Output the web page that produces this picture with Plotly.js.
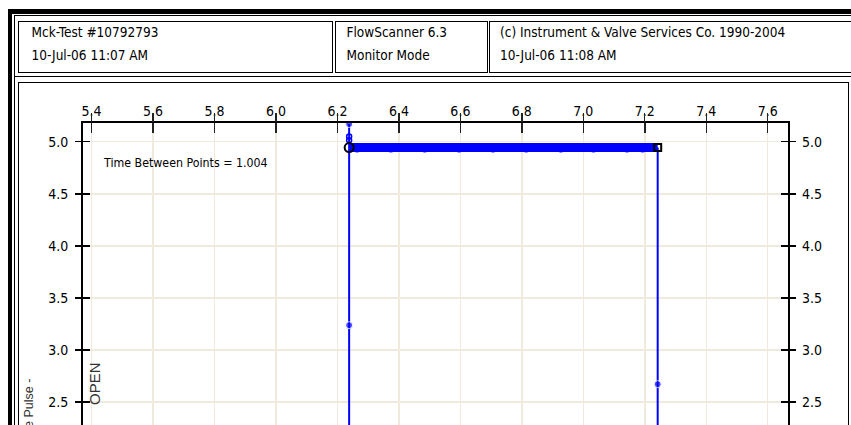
<!DOCTYPE html>
<html>
<head>
<meta charset="utf-8">
<script src="https://cdn.plot.ly/plotly-3.0.1.min.js"></script>
<style>
  html, body { margin:0; padding:0; background:#fff; overflow:hidden; }
  #wrap { position:relative; width:851px; height:425px; overflow:hidden; background:#fff; }
  #plot { position:absolute; left:0; top:0; width:851px; height:767px; }
  .fr { position:absolute; pointer-events:none; box-sizing:border-box; }
  .bk { background:#000; }
  .box { border:1px solid #000; }
  .ht { position:absolute; font-family:"DejaVu Sans Condensed","DejaVu Sans",sans-serif; font-size:13.5px; line-height:16px; color:#000; white-space:nowrap; pointer-events:none; }
</style>
</head>
<body>
<div id="wrap">
  <div id="plot"></div>
  <!-- outer double frame -->
  <div class="fr bk" style="left:8px;top:9px;width:851px;height:5px;"></div>
  <div class="fr bk" style="left:8px;top:9px;width:4px;height:425px;"></div>
  <div class="fr bk" style="left:14px;top:15px;width:851px;height:1px;"></div>
  <div class="fr bk" style="left:14px;top:15px;width:1px;height:425px;"></div>
  <!-- header boxes -->
  <div class="fr box" style="left:18px;top:21px;width:315px;height:52px;"></div>
  <div class="fr box" style="left:335px;top:21px;width:153px;height:52px;"></div>
  <div class="fr box" style="left:489px;top:21px;width:420px;height:52px;"></div>
  <div class="fr bk" style="left:14px;top:76px;width:851px;height:1px;"></div>
  <!-- chart box -->
  <div class="fr box" style="left:18px;top:82px;width:831px;height:420px;"></div>
  <div id="hdr"></div>
</div>
<script>
// ---- header texts ----
var headerLine1 = ["Mck-Test #10792793", "FlowScanner 6.3", "(c) Instrument & Valve Services Co. 1990-2004"];
var headerLine2 = ["10-Jul-06 11:07 AM", "Monitor Mode", "10-Jul-06 11:08 AM"];

// ---- axis ticks ----
var xTickVals = [5.4, 5.6, 5.8, 6.0, 6.2, 6.4, 6.6, 6.8, 7.0, 7.2, 7.4, 7.6];
var xTickText = ["5.4", "5.6", "5.8", "6.0", "6.2", "6.4", "6.6", "6.8", "7.0", "7.2", "7.4", "7.6"];
var yTickVals = [0.0, 0.5, 1.0, 1.5, 2.0, 2.5, 3.0, 3.5, 4.0, 4.5, 5.0];
var yTickText = ["0.0", "0.5", "1.0", "1.5", "2.0", "2.5", "3.0", "3.5", "4.0", "4.5", "5.0"];

// ---- data ----
var riseX = [6.238, 6.238, 6.238];
var riseY = [0.0, 3.237, 5.17];
var overshootX = [6.238, 6.238];
var overshootY = [5.05, 5.015];
var plateauX = [6.238, 7.242];
var plateauY = [4.944, 4.944];
var plateauPtsX = [6.264, 6.374, 6.484, 6.596, 6.706, 6.814, 6.927, 7.033, 7.142, 7.193];
var plateauPtsY = [4.93, 4.93, 4.93, 4.93, 4.93, 4.93, 4.93, 4.93, 4.93, 4.93];
var fallX = [7.242, 7.242, 7.242];
var fallY = [4.944, 2.67, 0.0];
var startCursor = {x: [6.238], y: [4.944]};
var endCursor = {x: [7.242], y: [4.944]};
var timeBetweenPoints = "1.004";

var hdr = document.getElementById('hdr');
var colLeft = [31.5, 346.5, 500];
for (var i = 0; i < 3; i++) {
  var a = document.createElement('div'); a.className = 'ht';
  a.style.left = colLeft[i] + 'px'; a.style.top = (31.7 - 8) + 'px'; a.textContent = headerLine1[i];
  hdr.appendChild(a);
  var b = document.createElement('div'); b.className = 'ht';
  b.style.left = colLeft[i] + 'px'; b.style.top = (55 - 8) + 'px'; b.textContent = headerLine2[i];
  hdr.appendChild(b);
}

var BLUE = '#0000ff';
var traces = [
  {x: plateauX, y: plateauY, mode: 'lines', line: {color: BLUE, width: 9}, hoverinfo: 'skip', showlegend: false},
  {x: plateauPtsX, y: plateauPtsY, mode: 'markers', marker: {color: BLUE, size: 7}, hoverinfo: 'skip', showlegend: false},
  {x: riseX, y: riseY, mode: 'lines+markers', line: {color: BLUE, width: 2}, marker: {color: BLUE, size: [0, 7, 7]}, hoverinfo: 'skip', showlegend: false},
  {x: overshootX, y: overshootY, mode: 'markers', marker: {symbol: 'circle-open', color: BLUE, size: 5, line: {width: 1.5, color: BLUE}}, hoverinfo: 'skip', showlegend: false},
  {x: fallX, y: fallY, mode: 'lines+markers', line: {color: BLUE, width: 2}, marker: {color: BLUE, size: [0, 7, 0]}, hoverinfo: 'skip', showlegend: false},
  {x: startCursor.x, y: startCursor.y, mode: 'markers', marker: {symbol: 'circle-open', color: '#000', size: 9, line: {width: 2, color: '#000'}}, hoverinfo: 'skip', showlegend: false},
  {x: endCursor.x, y: endCursor.y, mode: 'markers', marker: {symbol: 'square-open', color: '#000', size: 7, line: {width: 2, color: '#000'}}, hoverinfo: 'skip', showlegend: false},
  {x: [endCursor.x[0]], y: [endCursor.y[0]], yaxis: 'y2', mode: 'markers', marker: {size: 0, opacity: 0}, hoverinfo: 'skip', showlegend: false},
  {x: [endCursor.x[0]], y: [endCursor.y[0]], xaxis: 'x2', mode: 'markers', marker: {size: 0, opacity: 0}, hoverinfo: 'skip', showlegend: false}
];

var tickFont = {family: '"DejaVu Sans Condensed", "DejaVu Sans", sans-serif', size: 14, color: '#000'};
var GRID = '#efeadb';
var xr = [5.372, 7.666];
var yr = [-0.433, 5.18];

var layout = {
  width: 851, height: 767,
  margin: {l: 83, r: 63, t: 123, b: 60},
  paper_bgcolor: 'rgba(0,0,0,0)',
  plot_bgcolor: '#ffffff',
  showlegend: false,
  xaxis: {
    side: 'top', range: xr, tickvals: xTickVals, ticktext: xTickText,
    ticks: 'inside', ticklen: 10, tickwidth: 1.5, tickcolor: '#222',
    showline: true, linewidth: 2, linecolor: '#000', mirror: true,
    showgrid: true, gridcolor: GRID, gridwidth: 1.5, zeroline: false,
    tickfont: tickFont, ticklabelstandoff: -1
  },
  xaxis2: {
    overlaying: 'x', side: 'top', anchor: 'y', range: xr, tickvals: xTickVals,
    ticks: 'outside', ticklen: 9, tickwidth: 1.3, tickcolor: '#222',
    showticklabels: false, showline: false, showgrid: false, zeroline: false
  },
  yaxis: {
    range: yr, tickvals: yTickVals, ticktext: yTickText,
    ticks: 'outside', ticklen: 6, tickwidth: 1.5, tickcolor: '#000', mirror: 'ticks',
    showline: true, linewidth: 2, linecolor: '#000',
    showgrid: true, gridcolor: GRID, gridwidth: 1.5, zeroline: false,
    tickfont: tickFont, ticklabelstandoff: 4,
    title: {text: 'Valve Pulse -', standoff: 12, font: {family: '"Liberation Sans", Arial, sans-serif', size: 12.5, color: '#333'}}
  },
  yaxis2: {
    overlaying: 'y', side: 'right', anchor: 'x', range: yr, tickvals: yTickVals, ticktext: yTickText,
    ticks: 'inside', ticklen: 7, tickwidth: 1.5, tickcolor: '#000', mirror: 'ticks',
    showline: false, showgrid: false, zeroline: false,
    tickfont: tickFont, ticklabelstandoff: 13
  },
  annotations: [
    {xref: 'paper', yref: 'y', x: 0.0255, y: 4.798, xanchor: 'left', yanchor: 'middle', showarrow: false,
     text: 'Time Between Points = ' + timeBetweenPoints,
     font: {family: '"DejaVu Sans Condensed", "DejaVu Sans", sans-serif', size: 12.3, color: '#000'}},
    {xref: 'paper', yref: 'y', x: 0.017, y: 2.682, xanchor: 'center', yanchor: 'middle', showarrow: false,
     text: 'OPEN', textangle: -90,
     font: {family: '"Liberation Sans", Arial, sans-serif', size: 15, color: '#333'}}
  ]
};

Plotly.newPlot('plot', traces, layout, {staticPlot: true, displayModeBar: false});
</script>
</body>
</html>
